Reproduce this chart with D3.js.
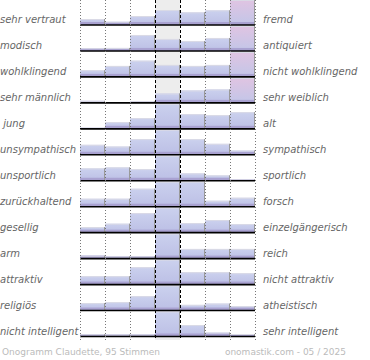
<!DOCTYPE html>
<html>
<head>
<meta charset="utf-8">
<script src="https://cdn.jsdelivr.net/npm/d3@7"></script>
<style>
  body { margin: 0; background: #fff; }
  svg text { font-family: "DejaVu Sans", sans-serif; white-space: pre; }
</style>
</head>
<body>
<div id="chart"></div>
<script>
// pole labels, left and right
const leftLabels = ["sehr vertraut", "modisch", "wohlklingend", "sehr männlich", " jung",
  "unsympathisch", "unsportlich", "zurückhaltend", "gesellig", "arm", "attraktiv",
  "religiös", "nicht intelligent"];
const rightLabels = ["fremd", "antiquiert", "nicht wohlklingend", "sehr weiblich", "alt",
  "sympathisch", "sportlich", "forsch", "einzelgängerisch", "reich", "nicht attraktiv",
  "atheistisch", "sehr intelligent"];

// share of votes per step (7 steps, middle = neutral)
const votesVertraut   = [6, 3.3, 9, 15, 12.7, 14.7, 30];
const votesModisch    = [2.8, 3, 16, 12, 10, 13, 32];
const votesKlang      = [6.7, 11, 16.3, 12, 11, 12, 31];
const votesMaennlich  = [2, 0, 1.8, 9.5, 12.5, 13.5, 34];
const votesJung       = [1, 6.7, 10.7, 30, 14.7, 13.7, 16.7];
const votesSympath    = [10, 8.3, 15.7, 30, 15.7, 11, 4.3];
const votesSport      = [12.4, 13.4, 11.7, 30, 7.4, 5.4, 1.4];
const votesForsch     = [8, 8, 18, 30, 27, 6, 9];
const votesGesellig   = [5.6, 9, 19.6, 30, 9.6, 12.6, 8.6];
const votesReich      = [3, 2.3, 2.3, 30, 9.7, 9.7, 9.7];
const votesAttraktiv  = [8.4, 8.4, 17.4, 30, 12.4, 12.4, 11.4];
const votesReligion   = [7.4, 8.4, 14.4, 30, 5.7, 7, 4.4];
const votesIntellig   = [2.3, 2, 2, 30, 11.5, 4, 2.5];

const rows = [votesVertraut, votesModisch, votesKlang, votesMaennlich, votesJung, votesSympath,
  votesSport, votesForsch, votesGesellig, votesReich, votesAttraktiv, votesReligion, votesIntellig];

const footerLeft = "Onogramm Claudette, 95 Stimmen";
const footerRight = "onomastik.com - 05 / 2025";

const width = 370, height = 360;
const yMax = 25;

const svg = d3.select("#chart").append("svg")
  .attr("width", width)
  .attr("height", height);

const x = d3.scaleBand().domain(d3.range(7)).range([80, 255]);
const rowY = d3.scalePoint().domain(d3.range(rows.length)).range([25, 336.5]);
const rowH = rowY.step();
const h = d3.scaleLinear().domain([0, yMax]).range([0, rowH - 1]).clamp(true);

const defs = svg.append("defs");
const blue = defs.append("linearGradient").attr("id", "gBlue")
  .attr("x1", 0).attr("y1", 0).attr("x2", 0).attr("y2", 1);
blue.append("stop").attr("offset", "0%").attr("stop-color", "#cbd1ee");
blue.append("stop").attr("offset", "100%").attr("stop-color", "#bcbfe5");
const pink = defs.append("linearGradient").attr("id", "gPink")
  .attr("x1", 0).attr("y1", 0).attr("x2", 0).attr("y2", 1);
pink.append("stop").attr("offset", "0%").attr("stop-color", "#e0c4e2");
pink.append("stop").attr("offset", "100%").attr("stop-color", "#c2c6e8");

// neutral column background
svg.append("rect")
  .attr("x", x(3)).attr("y", 0)
  .attr("width", x.bandwidth()).attr("height", 340)
  .attr("fill", "#ededed");

const rowG = svg.selectAll(".row")
  .data(rows)
  .enter().append("g")
  .attr("class", "row")
  .attr("transform", (d, i) => `translate(0,${rowY(i)})`);

const bars = rowG.selectAll(".bar")
  .data(d => d.map((v, j) => ({v, j})))
  .enter().append("g")
  .attr("class", "bar")
  .filter(d => d.v > 0);

bars.append("rect")
  .attr("x", d => x(d.j))
  .attr("y", d => -h(d.v))
  .attr("width", x.bandwidth())
  .attr("height", d => h(d.v))
  .attr("fill", d => (d.v > yMax && d.j === 6) ? "url(#gPink)" : "url(#gBlue)");

// darker foot of each bar
bars.append("rect")
  .attr("x", d => x(d.j))
  .attr("y", d => -Math.min(3, h(d.v)))
  .attr("width", x.bandwidth())
  .attr("height", d => Math.min(3, h(d.v)))
  .attr("fill", "#a9a2d1");

// light top edge
bars.append("line")
  .attr("x1", d => x(d.j)).attr("x2", d => x(d.j) + x.bandwidth())
  .attr("y1", d => -h(d.v) + 0.5).attr("y2", d => -h(d.v) + 0.5)
  .attr("stroke", "#dadae6").attr("stroke-width", 1);

// grey right edge
bars.append("line")
  .attr("x1", d => x(d.j) + x.bandwidth() - 0.5).attr("x2", d => x(d.j) + x.bandwidth() - 0.5)
  .attr("y1", d => -h(d.v)).attr("y2", 0)
  .attr("stroke", "#9a9a9a").attr("stroke-width", 1);

// baselines
svg.selectAll(".base")
  .data(rows)
  .enter().append("line")
  .attr("class", "base")
  .attr("x1", 80).attr("x2", 255)
  .attr("y1", (d, i) => rowY(i)).attr("y2", (d, i) => rowY(i))
  .attr("stroke", "#000").attr("stroke-width", 1.6);

// grid lines
const bounds = d3.range(8).map(k => k < 7 ? x(k) : x(6) + x.bandwidth());
svg.selectAll(".grid")
  .data(bounds)
  .enter().append("line")
  .attr("x1", d => d + 0.5).attr("x2", d => d + 0.5)
  .attr("y1", 0).attr("y2", 340)
  .attr("stroke", (d, k) => (k === 3 || k === 4) ? "#000" : "#777")
  .attr("stroke-width", 1)
  .attr("stroke-dasharray", (d, k) => (k === 3 || k === 4) ? "3,2" : "1,2");

// labels
rowG.append("text")
  .attr("x", 0).attr("y", -2)
  .attr("font-size", "10px").attr("font-style", "italic")
  .attr("fill", "#666")
  .text((d, i) => leftLabels[i]);

rowG.append("text")
  .attr("x", 263).attr("y", -2)
  .attr("font-size", "10px").attr("font-style", "italic")
  .attr("fill", "#666")
  .text((d, i) => rightLabels[i]);

svg.append("text")
  .attr("x", 2).attr("y", 355)
  .attr("font-size", "9px").attr("fill", "#bbb")
  .text(footerLeft);

svg.append("text")
  .attr("x", 346).attr("y", 355)
  .attr("text-anchor", "end")
  .attr("font-size", "9px").attr("fill", "#bbb")
  .text(footerRight);
</script>
</body>
</html>
